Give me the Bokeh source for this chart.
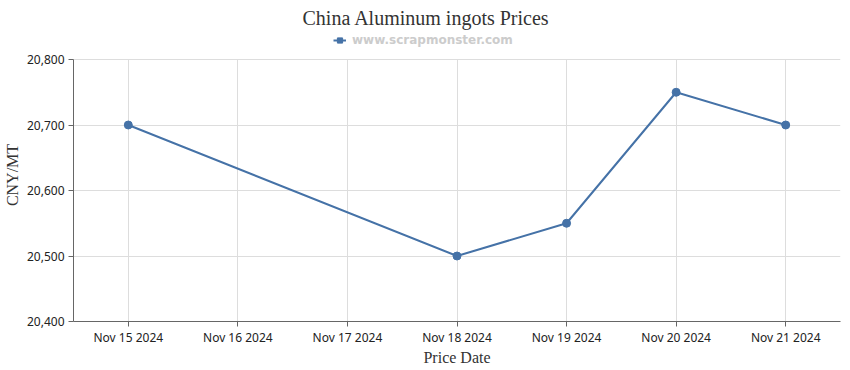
import numpy as np
from bokeh.plotting import figure
from bokeh.models import (NumeralTickFormatter, Title, Legend, LegendItem, FixedTicker, Range1d)
from bokeh.embed import file_html
from bokeh.resources import INLINE

dates = ["Nov 15 2024", "Nov 16 2024", "Nov 17 2024", "Nov 18 2024",
         "Nov 19 2024", "Nov 20 2024", "Nov 21 2024"]
price_dates = ["Nov 15 2024", "Nov 18 2024", "Nov 19 2024", "Nov 20 2024", "Nov 21 2024"]
prices = [20700, 20500, 20550, 20750, 20700]
y_ticks = [20400, 20500, 20600, 20700, 20800]

COLOR = "#4572A7"
# frame extends above the last tick to leave room for the legend inside it
FRAME_H = 293
PLOT_H = 262
y_top = y_ticks[0] + (y_ticks[-1] - y_ticks[0]) * FRAME_H / PLOT_H

p = figure(x_range=dates, y_range=Range1d(y_ticks[0], y_top),
           frame_width=767, frame_height=FRAME_H,
           min_border_left=73, min_border_right=4, min_border_top=28, min_border_bottom=45,
           output_backend="svg", toolbar_location=None, title=None,
           background_fill_color="white", border_fill_color="white")
p.outline_line_color = None

line = p.line(price_dates, prices, line_color=COLOR, line_width=2)
dots = p.scatter(price_dates, prices, size=8, fill_color=COLOR, line_color=COLOR)
# legend-only glyphs (no visible data)
leg_line = p.line([dates[0], dates[0]], [np.nan, np.nan], line_color=COLOR, line_width=2)
leg_sq = p.scatter([dates[0]], [np.nan], marker="square", size=6, fill_color=COLOR, line_color=COLOR)

legend = Legend(items=[LegendItem(label="www.scrapmonster.com", renderers=[leg_line, leg_sq])],
                orientation="horizontal", location=(260, 271),
                label_text_font="DejaVu Sans", label_text_font_style="bold",
                label_text_font_size="12px", label_text_color="#cccccc",
                border_line_color=None, background_fill_alpha=0,
                glyph_width=13, glyph_height=20, label_height=20,
                padding=0, margin=0, spacing=0, label_standoff=6)
p.add_layout(legend)

t = Title(text="China Aluminum ingots Prices", align="left",
          text_font="Liberation Serif", text_font_size="20px",
          text_font_style="normal", text_color="#333333", standoff=0, offset=229)
p.add_layout(t, "above")

p.yaxis.ticker = FixedTicker(ticks=y_ticks)
p.yaxis.formatter = NumeralTickFormatter(format="0,0")
p.yaxis.bounds = (y_ticks[0], y_ticks[-1])
for ax in (p.xaxis[0], p.yaxis[0]):
    ax.axis_line_color = "#666666"
    ax.major_tick_line_color = "#666666"
    ax.major_tick_in = 0
    ax.major_tick_out = 5
    ax.minor_tick_line_color = None
    ax.major_label_text_font = "Noto Sans"
    ax.major_label_text_font_size = "12px"
    ax.major_label_text_color = "#222222"
    ax.axis_label_text_font = "Liberation Serif"
    ax.axis_label_text_font_size = "16px"
    ax.axis_label_text_font_style = "normal"
    ax.axis_label_text_color = "#333333"

p.xaxis.axis_label = "Price Date"
p.yaxis.axis_label = "CNY/MT"
p.xaxis.major_label_standoff = 2
p.yaxis.major_label_standoff = 4
p.xaxis.axis_label_standoff = 0
p.yaxis.axis_label_standoff = 3

p.xgrid.grid_line_color = "#dddddd"
p.xgrid.cross_bounds = (y_ticks[0], y_ticks[-1])
p.ygrid.grid_line_color = "#dddddd"

open("out.html", "w").write(file_html(p, INLINE))
